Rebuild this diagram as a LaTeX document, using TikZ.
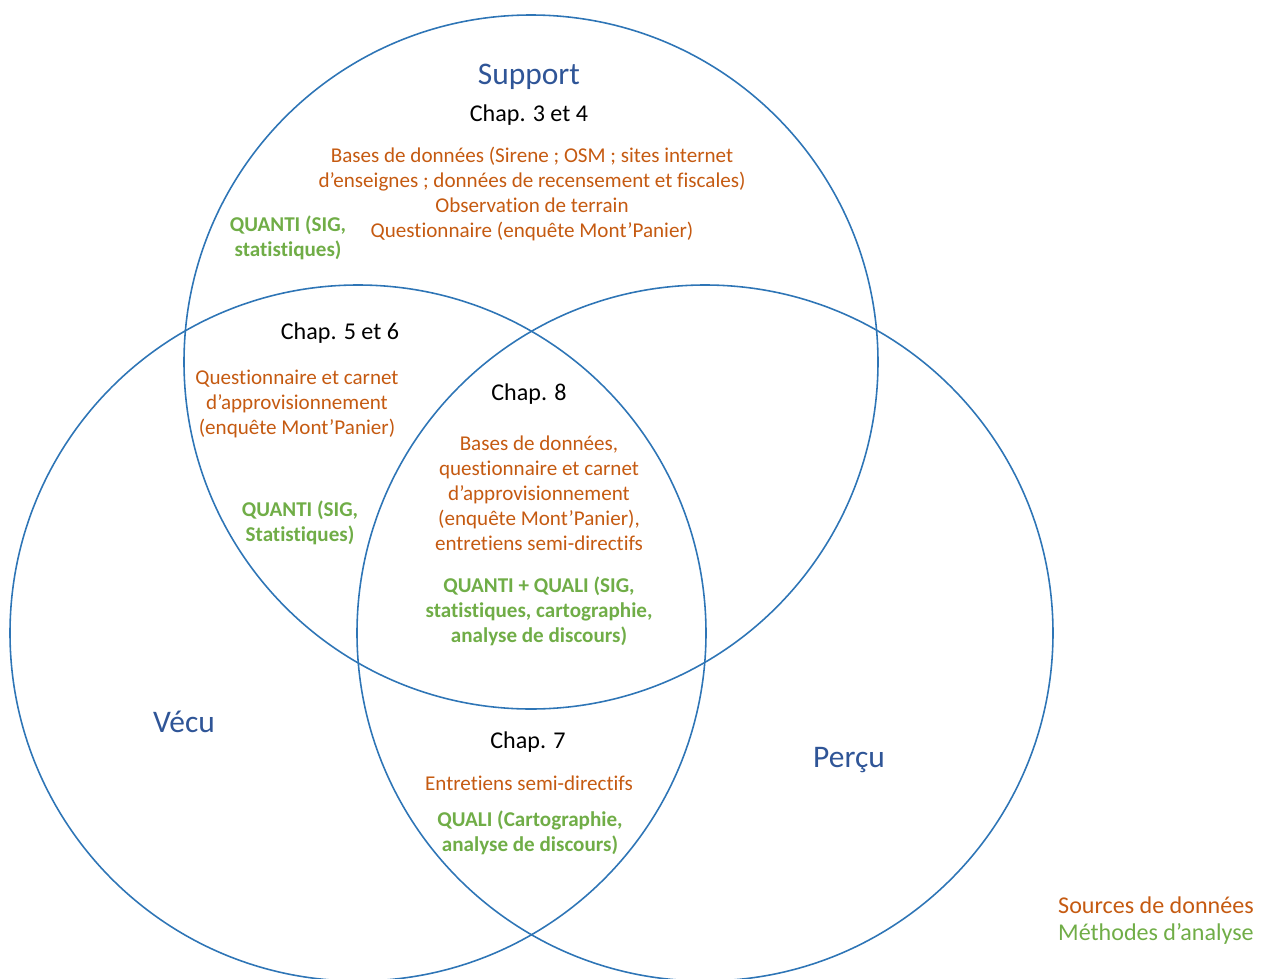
\documentclass[tikz,border=0pt]{standalone}
\usepackage{fontspec}
\setmainfont{Carlito}[Ligatures=CommonOff]
\definecolor{cercle}{HTML}{2E75B6}
\definecolor{titre}{HTML}{2F5597}
\definecolor{source}{HTML}{C55A11}
\definecolor{methode}{HTML}{70AD47}
\tikzset{
  ensemble/.style={draw=cercle, line width=0.9pt},
  titre/.style={text=titre, font=\fontsize{17.9}{21}\selectfont},
  chap/.style={text=black, font=\fontsize{13.7}{16}\selectfont},
  source/.style={text=source, align=center, font=\fontsize{12}{14.2}\selectfont},
  methode/.style={text=methode, align=center, font=\fontsize{12}{14.2}\selectfont\bfseries},
  legende/.style={anchor=west, font=\fontsize{13.7}{16}\selectfont},
}
\begin{document}
\begin{tikzpicture}[x=0.02cm, y=-0.02cm]
\useasboundingbox (0,0) rectangle (1269,978);
\begin{scope}
\clip (0,0) rectangle (1269,978);
\draw[ensemble] (531,362) circle[radius=347];
\draw[ensemble] (358,633) circle[radius=348];
\draw[ensemble] (705,633) circle[radius=348];
\end{scope}

\node[titre] (support) at (529,77) {Support};
\node[titre] (vecu) at (184,722) {Vécu};
\node[titre] (percu) at (849,760) {Perçu};

% Support
\node[chap] (chap34) at (529,115) {Chap. 3 et 4};
\node[source] (src34) at (532,194) {Bases de données (Sirene ; OSM ; sites internet\\d’enseignes ; données de recensement et fiscales)\\Observation de terrain\\Questionnaire (enquête Mont’Panier)};
\node[methode] (met34) at (288,238) {QUANTI (SIG,\\statistiques)};

% Support et Vécu
\node[chap] (chap56) at (340,333) {Chap. 5 et 6};
\node[source] (src56) at (297,404) {Questionnaire et carnet\\d’approvisionnement\\(enquête Mont’Panier)};
\node[methode] (met56) at (300,523) {QUANTI (SIG,\\Statistiques)};

% centre
\node[chap] (chap8) at (529,394) {Chap. 8};
\node[source] (src8) at (539,493) {Bases de données,\\questionnaire et carnet\\d’approvisionnement\\(enquête Mont’Panier),\\entretiens semi-directifs};
\node[methode] (met8) at (539,611) {QUANTI + QUALI (SIG,\\statistiques, cartographie,\\analyse de discours)};

% Vécu et Perçu
\node[chap] (chap7) at (528,742) {Chap. 7};
\node[source] (src7) at (529,783) {Entretiens semi-directifs};
\node[methode] (met7) at (530,833) {QUALI (Cartographie,\\analyse de discours)};

% legende
\node[legende, text=source] (legsrc) at (1052,905) {Sources de données};
\node[legende, text=methode] (legmet) at (1052,934) {Méthodes d’analyse};
\end{tikzpicture}
\end{document}
